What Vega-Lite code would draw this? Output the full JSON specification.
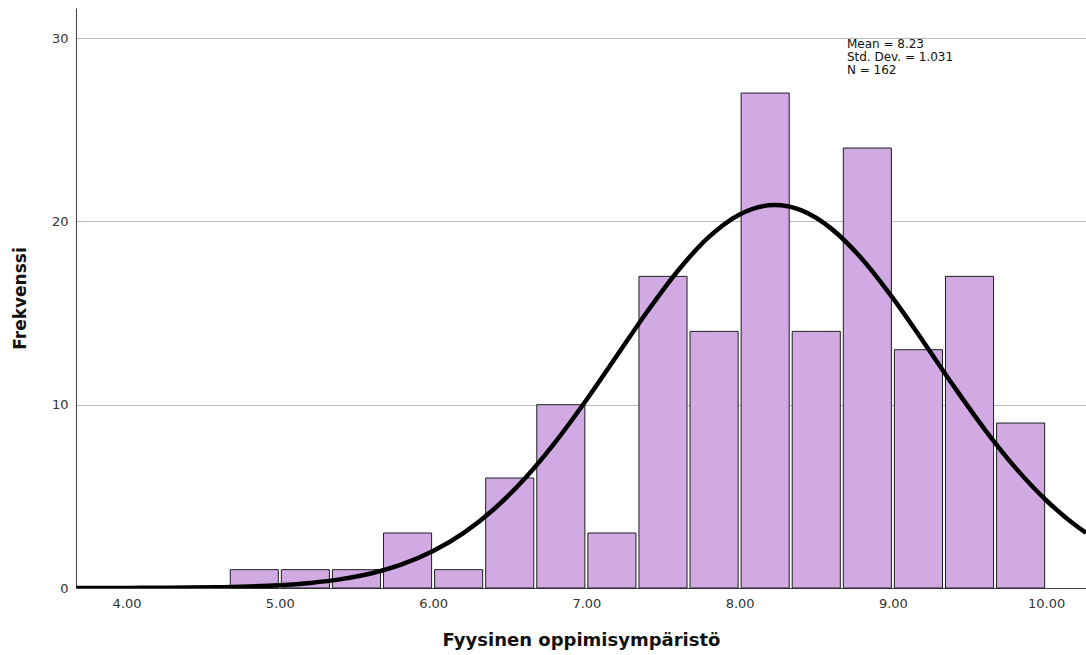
{
  "$schema": "https://vega.github.io/schema/vega-lite/v6.json",
  "width": 1010,
  "height": 580,
  "autosize": {"type": "none"},
  "padding": {"left": 76, "top": 8, "right": 0, "bottom": 67},
  "background": "white",
  "config": {
    "view": {"stroke": null},
    "font": "DejaVu Sans"
  },
  "datasets": {
    "bins": [
      {"start": 4.6667, "end": 5.0, "count": 1},
      {"start": 5.0, "end": 5.3333, "count": 1},
      {"start": 5.3333, "end": 5.6667, "count": 1},
      {"start": 5.6667, "end": 6.0, "count": 3},
      {"start": 6.0, "end": 6.3333, "count": 1},
      {"start": 6.3333, "end": 6.6667, "count": 6},
      {"start": 6.6667, "end": 7.0, "count": 10},
      {"start": 7.0, "end": 7.3333, "count": 3},
      {"start": 7.3333, "end": 7.6667, "count": 17},
      {"start": 7.6667, "end": 8.0, "count": 14},
      {"start": 8.0, "end": 8.3333, "count": 27},
      {"start": 8.3333, "end": 8.6667, "count": 14},
      {"start": 8.6667, "end": 9.0, "count": 24},
      {"start": 9.0, "end": 9.3333, "count": 13},
      {"start": 9.3333, "end": 9.6667, "count": 17},
      {"start": 9.6667, "end": 10.0, "count": 9}
    ],
    "curve": [
      {"x": 3.67, "y": 0.0012},
      {"x": 4.0, "y": 0.0046},
      {"x": 4.2, "y": 0.010},
      {"x": 4.4, "y": 0.021},
      {"x": 4.6, "y": 0.0425},
      {"x": 4.8, "y": 0.0825},
      {"x": 5.0, "y": 0.154},
      {"x": 5.2, "y": 0.278},
      {"x": 5.4, "y": 0.483},
      {"x": 5.6, "y": 0.807},
      {"x": 5.8, "y": 1.299},
      {"x": 6.0, "y": 2.015},
      {"x": 6.2, "y": 3.009},
      {"x": 6.4, "y": 4.326},
      {"x": 6.6, "y": 5.987},
      {"x": 6.8, "y": 7.986},
      {"x": 7.0, "y": 10.255},
      {"x": 7.2, "y": 12.685},
      {"x": 7.4, "y": 15.111},
      {"x": 7.6, "y": 17.337},
      {"x": 7.8, "y": 19.154},
      {"x": 8.0, "y": 20.381},
      {"x": 8.23, "y": 20.895},
      {"x": 8.4, "y": 20.613},
      {"x": 8.6, "y": 19.591},
      {"x": 8.8, "y": 17.934},
      {"x": 9.0, "y": 15.809},
      {"x": 9.2, "y": 13.423},
      {"x": 9.4, "y": 10.974},
      {"x": 9.6, "y": 8.642},
      {"x": 9.8, "y": 6.553},
      {"x": 10.0, "y": 4.787},
      {"x": 10.2, "y": 3.366},
      {"x": 10.26, "y": 3.01}
    ],
    "note": [
      {"x": 8.7, "y": 30.0, "label": ["Mean = 8.23", "Std. Dev. = 1.031", "N = 162"]}
    ]
  },
  "layer": [
    {
      "data": {"name": "bins"},
      "mark": {"type": "rect", "fill": "#D1AAE4", "stroke": "#1e1e1e", "strokeWidth": 1, "xOffset": 1.5, "x2Offset": -1.5},
      "encoding": {
        "x": {
          "field": "start", "type": "quantitative",
          "scale": {"domain": [3.67, 10.26], "nice": false, "zero": false},
          "axis": {
            "values": [4, 5, 6, 7, 8, 9, 10],
            "format": ".2f",
            "grid": false,
            "ticks": false,
            "domainColor": "#444444",
            "domainWidth": 1,
            "labelFontSize": 13,
            "labelColor": "#333333",
            "labelPadding": 9,
            "title": "Fyysinen oppimisympäristö",
            "titleFontSize": 18,
            "titleFontWeight": "bold",
            "titleColor": "#111111",
            "titlePadding": 21
          }
        },
        "x2": {"field": "end"},
        "y": {
          "field": "count", "type": "quantitative",
          "scale": {"domain": [0, 31.64], "nice": false},
          "axis": {
            "values": [0, 10, 20, 30],
            "grid": true,
            "gridColor": "#bbbbbb",
            "gridWidth": 1,
            "ticks": false,
            "domainColor": "#444444",
            "domainWidth": 1,
            "labelFontSize": 13,
            "labelColor": "#333333",
            "labelPadding": 8,
            "title": "Frekvenssi",
            "titleFontSize": 17,
            "titleFontWeight": "bold",
            "titleColor": "#111111",
            "titlePadding": 22
          }
        },
        "y2": {"datum": 0}
      }
    },
    {
      "data": {"name": "curve"},
      "mark": {"type": "line", "color": "#000000", "strokeWidth": 4.5, "interpolate": "monotone", "clip": true},
      "encoding": {
        "x": {"field": "x", "type": "quantitative"},
        "y": {"field": "y", "type": "quantitative"}
      }
    },
    {
      "data": {"name": "note"},
      "mark": {"type": "text", "align": "left", "baseline": "top", "fontSize": 12, "lineHeight": 13, "color": "#111111", "dy": 1},
      "encoding": {
        "x": {"field": "x", "type": "quantitative"},
        "y": {"field": "y", "type": "quantitative"},
        "text": {"field": "label"}
      }
    }
  ]
}
